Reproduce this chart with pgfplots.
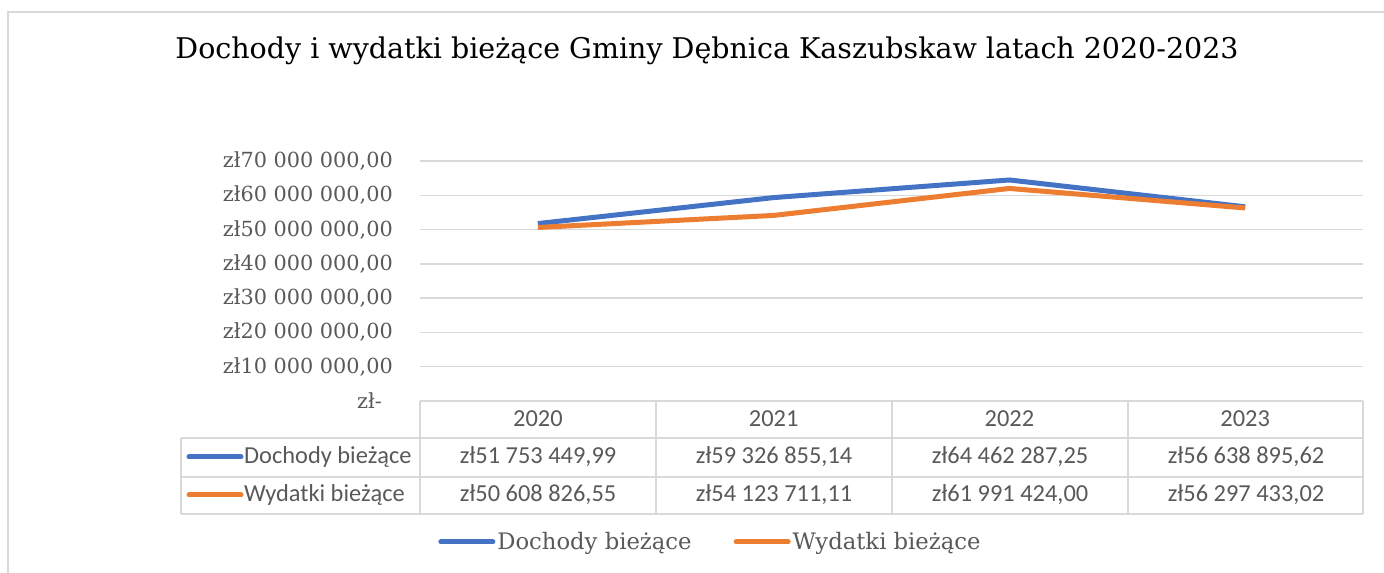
\documentclass[border=0pt]{standalone}
\usepackage{pgfplots}
\pgfplotsset{compat=1.18}
\usepackage{fontspec}
\setmainfont{DejaVu Serif}
\newfontfamily\calfont{Carlito}
\definecolor{cblue}{HTML}{4472C4}
\definecolor{corange}{HTML}{ED7D31}
\definecolor{tgray}{HTML}{595959}
\definecolor{ggray}{HTML}{D9D9D9}
\begin{document}
\begin{tikzpicture}[x=1bp,y=1bp]
\path[use as bounding box] (0,0) rectangle (1384,573);
% outer frame
\draw[ggray, line width=1.5bp] (8,0) -- (8,561) -- (1384,561);
% title
\node[font=\fontsize{28.5bp}{32bp}\selectfont, text=black] at (707,522) {Dochody i wydatki bieżące Gminy Dębnica Kaszubskaw latach 2020-2023};
\begin{axis}[
  at={(420bp,172bp)}, anchor=south west,
  scale only axis, width=943bp, height=240bp,
  xmin=-0.5, xmax=3.5, ymin=0, ymax=70000000,
  scaled y ticks=false,
  clip=false,
  axis line style={draw=none},
  tick style={draw=none},
  ymajorgrids,
  major grid style={color=ggray, line width=1.5bp},
  ytick={0,10000000,20000000,30000000,40000000,50000000,60000000,70000000},
  yticklabels={{zł-\kern11bp},{zł10 000 000,00},{zł20 000 000,00},{zł30 000 000,00},{zł40 000 000,00},{zł50 000 000,00},{zł60 000 000,00},{zł70 000 000,00}},
  yticklabel style={font=\fontsize{20.8bp}{24bp}\selectfont, text=tgray, anchor=east, inner sep=0pt, xshift=-27bp},
  xtick={0,1,2,3},
  xticklabels={2020,2021,2022,2023},
  xticklabel style={font=\calfont\fontsize{24.4bp}{28bp}\selectfont, text=tgray, anchor=center, inner sep=0pt, yshift=-18bp},
  legend columns=2,
  legend style={at={(0.308,-0.5875)}, anchor=center, draw=none, fill=none,
    font=\fontsize{22.7bp}{26bp}\selectfont, text=tgray,
    /tikz/every even column/.append style={column sep=40bp}},
  legend image code/.code={\draw[#1, line cap=round] (0bp,0bp) -- (52bp,0bp);},
]
\addplot[cblue, line width=5bp, line join=round] coordinates {(0,51753449.99) (1,59326855.14) (2,64462287.25) (3,56638895.62)};
\addlegendentry{Dochody bieżące}
\addplot[corange, line width=5bp, line join=round] coordinates {(0,50608826.55) (1,54123711.11) (2,61991424.00) (3,56297433.02)};
\addlegendentry{Wydatki bieżące}
\end{axis}
% data table
\begin{scope}[ggray, line width=1.5bp]
\draw (420,172) -- (1363,172);
\draw (181,135) -- (1363,135);
\draw (181,96) -- (1363,96);
\draw (181,59) -- (1363,59);
\foreach \x in {420,656,892,1128,1363} \draw (\x,172) -- (\x,59);
\draw (181,135) -- (181,59);
\end{scope}
\draw[cblue, line width=5bp, line cap=round] (189,116) -- (241,116);
\draw[corange, line width=5bp, line cap=round] (189,78) -- (241,78);
\begin{scope}[every node/.style={font=\calfont\fontsize{24.4bp}{28bp}\selectfont, text=tgray, inner sep=0pt}]
\node[anchor=west] at (244,116) {Dochody bieżące};
\node[anchor=west] at (244,78) {Wydatki bieżące};
\node at (538,116) {zł51 753 449,99};
\node at (774,116) {zł59 326 855,14};
\node at (1010,116) {zł64 462 287,25};
\node at (1246,116) {zł56 638 895,62};
\node at (538,78) {zł50 608 826,55};
\node at (774,78) {zł54 123 711,11};
\node at (1010,78) {zł61 991 424,00};
\node at (1246,78) {zł56 297 433,02};
\end{scope}
\end{tikzpicture}
\end{document}
